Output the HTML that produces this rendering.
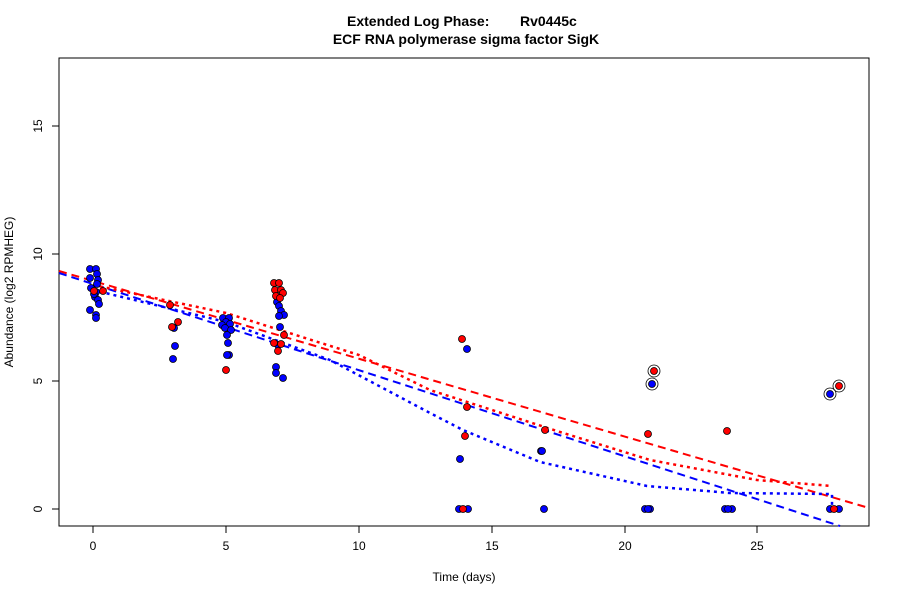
<!DOCTYPE html>
<html><head><meta charset="utf-8"><style>body{margin:0;background:#fff}</style></head><body>
<svg width="900" height="600" xmlns="http://www.w3.org/2000/svg" font-family="Liberation Sans, sans-serif">
<rect width="900" height="600" fill="#fff"/>
<text x="347" y="26" font-size="14" font-weight="bold">Extended Log Phase:</text>
<text x="520" y="26" font-size="14" font-weight="bold">Rv0445c</text>
<text x="466" y="44" text-anchor="middle" font-size="14" font-weight="bold">ECF RNA polymerase sigma factor SigK</text>
<rect x="59" y="58" width="810" height="468" fill="none" stroke="#000"/>
<g stroke="#000">
<line x1="93" y1="526" x2="93" y2="533"/><line x1="226" y1="526" x2="226" y2="533"/><line x1="359" y1="526" x2="359" y2="533"/><line x1="492" y1="526" x2="492" y2="533"/><line x1="625" y1="526" x2="625" y2="533"/><line x1="757" y1="526" x2="757" y2="533"/>
<line x1="52" y1="509" x2="59" y2="509"/><line x1="52" y1="381" x2="59" y2="381"/><line x1="52" y1="254" x2="59" y2="254"/><line x1="52" y1="126" x2="59" y2="126"/>
</g>
<g font-size="12" text-anchor="middle">
<text x="93" y="550">0</text><text x="226" y="550">5</text><text x="359" y="550">10</text><text x="492" y="550">15</text><text x="625" y="550">20</text><text x="757" y="550">25</text>
<text x="464" y="581">Time  (days)</text>
<g transform="rotate(-90)"><text x="-509" y="42">0</text><text x="-381" y="42">5</text><text x="-254" y="42">10</text><text x="-126" y="42">15</text>
<text x="-292" y="13">Abundance  (log2 RPMHEG)</text></g>
</g>
<g fill="none" stroke-width="2">
<line x1="59" y1="271" x2="869" y2="508" stroke="#f00" stroke-dasharray="8,5"/>
<line x1="59" y1="273" x2="840" y2="526" stroke="#00f" stroke-dasharray="8,5"/>
<polyline points="93,285 226,313 359,355 430,390 492,410 560,432 650,460 757,480 832,486" stroke="#f00" stroke-width="2.5" stroke-dasharray="3,4"/>
<polyline points="93,290 226,322 330,360 430,413 463,430 540,462 647,486 730,493 832,494 832,509" stroke="#00f" stroke-width="2.5" stroke-dasharray="3,4"/>
</g>
<g stroke="#000" stroke-width="0.8">
<g fill="#00f">
<circle cx="90" cy="269" r="3.5"/><circle cx="96" cy="269" r="3.5"/><circle cx="97" cy="274" r="3.5"/><circle cx="90" cy="278" r="3.5"/><circle cx="98" cy="280" r="3.5"/><circle cx="91" cy="288" r="3.5"/><circle cx="97" cy="284" r="3.5"/><circle cx="96" cy="292" r="3.5"/><circle cx="95" cy="297" r="3.5"/><circle cx="98" cy="300" r="3.5"/><circle cx="94" cy="294" r="3.5"/><circle cx="99" cy="304" r="3.5"/><circle cx="90" cy="310" r="3.5"/><circle cx="96" cy="315" r="3.5"/><circle cx="96" cy="318" r="3.5"/>
<circle cx="174" cy="328" r="3.5"/><circle cx="175" cy="346" r="3.5"/><circle cx="173" cy="359" r="3.5"/>
<circle cx="223" cy="318" r="3.5"/><circle cx="229" cy="318" r="3.5"/><circle cx="226" cy="322" r="3.5"/><circle cx="222" cy="325" r="3.5"/><circle cx="230" cy="324" r="3.5"/><circle cx="225" cy="328" r="3.5"/><circle cx="231" cy="330" r="3.5"/><circle cx="227" cy="335" r="3.5"/><circle cx="228" cy="343" r="3.5"/><circle cx="229" cy="355" r="3.5"/><circle cx="227" cy="355" r="3.5"/>
<circle cx="277" cy="302" r="3.5"/><circle cx="279" cy="306" r="3.5"/><circle cx="281" cy="311" r="3.5"/><circle cx="284" cy="315" r="3.5"/><circle cx="279" cy="316" r="3.5"/><circle cx="280" cy="327" r="3.5"/><circle cx="278" cy="345" r="3.5"/><circle cx="276" cy="367" r="3.5"/><circle cx="276" cy="373" r="3.5"/><circle cx="283" cy="378" r="3.5"/>
<circle cx="467" cy="349" r="3.5"/><circle cx="460" cy="459" r="3.5"/><circle cx="459" cy="509" r="3.5"/><circle cx="468" cy="509" r="3.5"/>
<circle cx="541" cy="451" r="3.5"/><circle cx="544" cy="509" r="3.5"/>
<circle cx="645" cy="509" r="3.5"/><circle cx="650" cy="509" r="3.5"/>
<circle cx="725" cy="509" r="3.5"/><circle cx="732" cy="509" r="3.5"/>
<circle cx="830" cy="509" r="3.5"/><circle cx="839" cy="509" r="3.5"/>
</g>
<g fill="#f00">
<circle cx="94" cy="291" r="3.5"/><circle cx="103" cy="291" r="3.5"/>
<circle cx="170" cy="305" r="3.5"/><circle cx="178" cy="322" r="3.5"/><circle cx="172" cy="327" r="3.5"/>
<circle cx="226" cy="370" r="3.5"/>
<circle cx="274" cy="283" r="3.5"/><circle cx="279" cy="283" r="3.5"/><circle cx="275" cy="290" r="3.5"/><circle cx="281" cy="290" r="3.5"/><circle cx="276" cy="296" r="3.5"/><circle cx="283" cy="293" r="3.5"/><circle cx="280" cy="298" r="3.5"/><circle cx="274" cy="343" r="3.5"/><circle cx="284" cy="335" r="3.5"/><circle cx="278" cy="351" r="3.5"/><circle cx="281" cy="344" r="3.5"/>
<circle cx="462" cy="339" r="3.5"/><circle cx="467" cy="407" r="3.5"/><circle cx="465" cy="436" r="3.5"/><circle cx="463" cy="509" r="3.5"/>
<circle cx="545" cy="430" r="3.5"/><circle cx="648" cy="434" r="3.5"/><circle cx="727" cy="431" r="3.5"/><circle cx="834" cy="509" r="3.5"/>
</g>
<circle cx="542" cy="451" r="3.5" fill="#00f"/><circle cx="648" cy="509" r="3.5" fill="#00f"/><circle cx="728" cy="509" r="3.5" fill="#00f"/>
<circle cx="654" cy="371" r="3.5" fill="#f00"/><circle cx="652" cy="384" r="3.5" fill="#00f"/>
<circle cx="830" cy="394" r="3.5" fill="#00f"/><circle cx="839" cy="386" r="3.5" fill="#f00"/>
</g>
<g fill="none" stroke="#000" stroke-width="0.8">
<circle cx="654" cy="371" r="6"/><circle cx="652" cy="384" r="6"/><circle cx="830" cy="394" r="6"/><circle cx="839" cy="386" r="6"/>
</g>
</svg>
</body></html>
